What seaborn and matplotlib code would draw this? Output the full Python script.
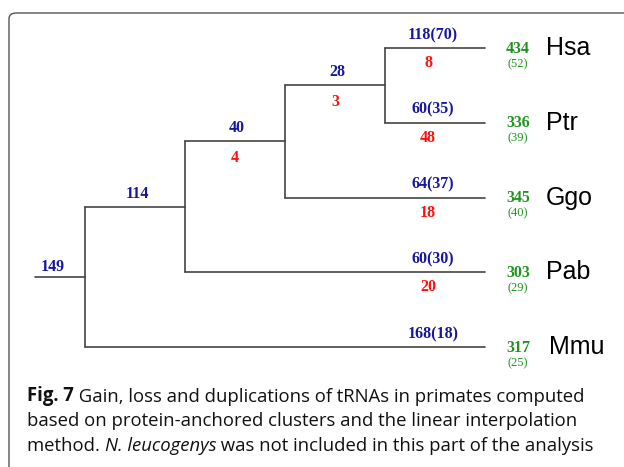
import matplotlib
matplotlib.use("Agg")
import matplotlib.pyplot as plt
from matplotlib.patches import FancyBboxPatch
import seaborn as sns
import pandas as pd

# ---- data ----
taxa = ["Hsa", "Ptr", "Ggo", "Pab", "Mmu"]
leaf_gain = ["118(70)", "60(35)", "64(37)", "60(30)", "168(18)"]
leaf_loss = ["8", "48", "18", "20", ""]
leaf_total = ["434", "336", "345", "303", "317"]
leaf_total_paren = ["(52)", "(39)", "(40)", "(29)", "(25)"]
# internal nodes: (name, children, gain label, loss label)
internal_names = ["n28", "n40", "n114", "root"]
internal_children = [["Hsa", "Ptr"], ["n28", "Ggo"], ["n40", "Pab"], ["n114", "Mmu"]]
internal_gain = ["28", "40", "114", "149"]
internal_loss = ["3", "4", "", ""]
caption_bold = "Fig. 7"
caption_lines = [
    " Gain, loss and duplications of tRNAs in primates computed",
    "based on protein-anchored clusters and the linear interpolation",
]
caption_last = ["method. ", "N. leucogenys", " was not included in this part of the analysis"]

BLUE = "#1616a0"
RED = "#ff1010"
GREEN = "#1f951f"
LINE = "#444444"

# ---- layout of tree from topology ----
depth = {}
ypos = {}
parent = {}
for name, ch in zip(internal_names, internal_children):
    for c in ch:
        parent[c] = name
for i, t in enumerate(taxa):
    ypos[t] = float(i)
depth["root"] = 0
for name in reversed(internal_names):
    for c in internal_children[internal_names.index(name)]:
        depth[c] = depth[name] + 1
max_depth = max(depth[n] for n in internal_names) + 1
for t in taxa:
    depth[t] = max_depth
for name, ch in zip(internal_names, internal_children):
    ypos[name] = sum(ypos[c] for c in ch) / len(ch)

rows = []
seg = 0
# horizontal branches
for n in list(taxa) + internal_names:
    x1 = depth[n]
    x0 = depth[parent[n]] if n in parent else -0.5
    rows += [dict(x=x0, y=ypos[n], seg=seg), dict(x=x1, y=ypos[n], seg=seg)]
    seg += 1
# vertical connectors
for name, ch in zip(internal_names, internal_children):
    ys = [ypos[c] for c in ch]
    rows += [dict(x=depth[name], y=min(ys), seg=seg), dict(x=depth[name], y=max(ys), seg=seg)]
    seg += 1
df = pd.DataFrame(rows)

sns.set_theme(style="white")
fig = plt.figure(figsize=(6.24, 4.67), dpi=100)
ax = fig.add_axes([0, 0, 1, 1])
sns.lineplot(data=df, x="x", y="y", units="seg", estimator=None, sort=False,
             color=LINE, lw=1.2, ax=ax, legend=False)
ax.set_xlim((0 - 85) / 100, (624 - 85) / 100)
ax.set_ylim((467 - 48) / 74.75, (0 - 48) / 74.75)
ax.axis("off")

num_font = dict(family="Liberation Serif", fontweight="bold", fontsize=11.5)
up = -13 / 74.75
down = 15 / 74.75

for i, t in enumerate(taxa):
    x1 = depth[t]
    y = ypos[t]
    ax.text(x1 - 0.52, y + up, leaf_gain[i], color=BLUE, ha="center", va="center", **num_font)
    if leaf_loss[i]:
        ax.text(x1 - 0.57, y + down, leaf_loss[i], color=RED, ha="center", va="center", **num_font)
    ax.text(x1 + 0.33, y + 0.01, leaf_total[i], color=GREEN, ha="center", va="center", **num_font)
    ax.text(x1 + 0.33, y + 16 / 74.75, leaf_total_paren[i], color=GREEN, ha="center",
            va="center", family="Liberation Serif", fontsize=9)
    ax.text(x1 + 0.61 + (0.03 if t == "Mmu" else 0), y, t, color="black", ha="left",
            va="center", family="Liberation Sans", fontsize=18)

for j, name in enumerate(internal_names):
    x1 = depth[name]
    y = ypos[name]
    if name == "root":
        ax.text(x1 - 0.32, y - 10 / 74.75, internal_gain[j], color=BLUE, ha="center",
                va="center", **num_font)
    else:
        ax.text(x1 - 0.48, y + up, internal_gain[j], color=BLUE, ha="center", va="center", **num_font)
    if internal_loss[j]:
        ax.text(x1 - 0.5, y + down + 0.02, internal_loss[j], color=RED, ha="center",
                va="center", **num_font)

# frame
frame = FancyBboxPatch((9 / 624, -0.2), 1.2, (467 - 13) / 467 + 0.2,
                       boxstyle="round,pad=0,rounding_size=0.012",
                       transform=fig.transFigure, fill=False, edgecolor="#555555",
                       lw=1.0, clip_on=False)
fig.patches.append(frame)

# caption
cap_fs = 13.35
cap_family = "Open Sans"
y0 = 1 - 401 / 467
t1 = fig.text(27 / 624, y0, caption_bold, fontsize=cap_fs, family=cap_family,
              fontweight="bold", va="baseline", ha="left", color="#111111")
ax.annotate(caption_lines[0], xy=(1, 0), xycoords=t1, va="bottom", ha="left",
            fontsize=cap_fs, family=cap_family, color="#111111")
fig.text(27 / 624, y0 - 25 / 467, caption_lines[1], fontsize=cap_fs, family=cap_family,
         va="baseline", ha="left", color="#111111")
p1 = fig.text(27 / 624, y0 - 50 / 467, caption_last[0], fontsize=cap_fs, family=cap_family,
              va="baseline", ha="left", color="#111111")
p2 = ax.annotate(caption_last[1], xy=(1, 0), xycoords=p1, va="bottom", ha="left",
                 fontsize=cap_fs, family=cap_family, style="italic", color="#111111")
ax.annotate(caption_last[2], xy=(1, 0), xycoords=p2, va="bottom", ha="left",
            fontsize=cap_fs, family=cap_family, color="#111111")

fig.savefig("out.png", dpi=100)
